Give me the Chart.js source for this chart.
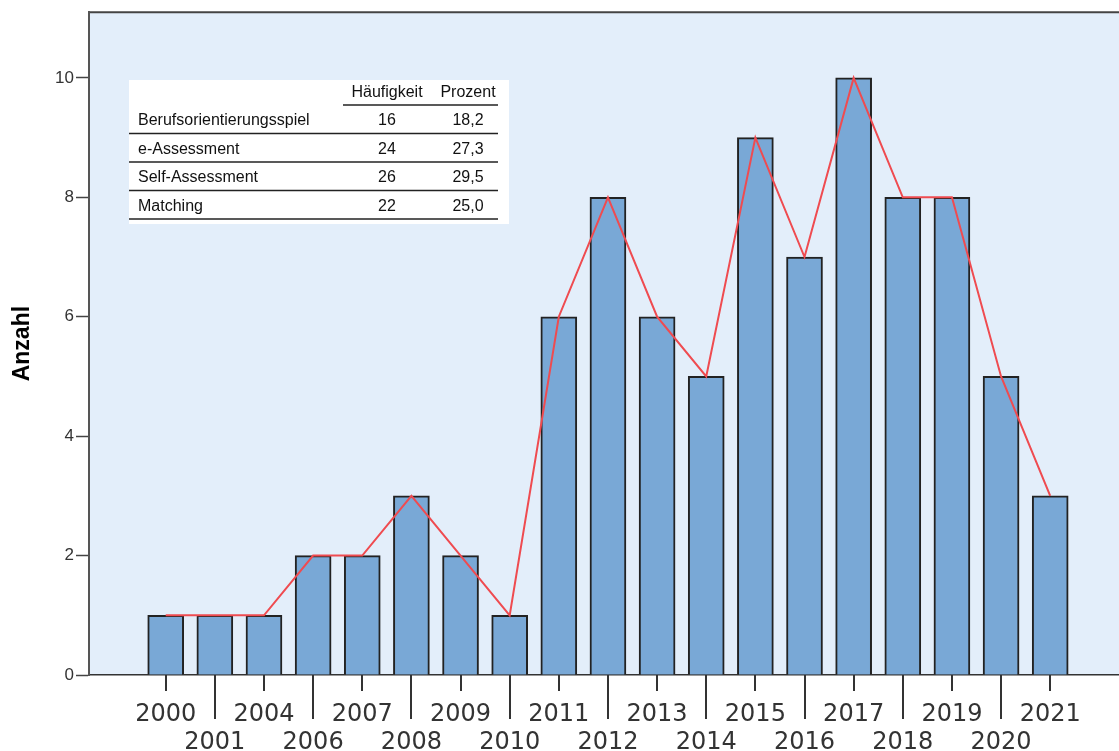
<!DOCTYPE html>
<html>
<head>
<meta charset="utf-8">
<script src="https://cdn.jsdelivr.net/npm/chart.js@4"></script>
<style>
    html, body { margin: 0; padding: 0; background: #fff; }
</style>
</head>
<body>
<canvas id="chart" width="1119" height="751"></canvas>
<script>
// ===============================
// DATA
// ===============================

const years = ['2000', '2001', '2004', '2006', '2007', '2008', '2009', '2010', '2011', '2012',
    '2013', '2014', '2015', '2016', '2017', '2018', '2019', '2020', '2021'];

const counts = [1, 1, 1, 2, 2, 3, 2, 1, 6, 8, 6, 5, 9, 7, 10, 8, 8, 5, 3];

const yTicks = [0, 2, 4, 6, 8, 10];

// inset table
const tableHeader = ['', 'Häufigkeit', 'Prozent'];
const tableRows = ['Berufsorientierungsspiel', 'e-Assessment', 'Self-Assessment', 'Matching'];
const tableFreq = ['16', '24', '26', '22'];
const tablePct = ['18,2', '27,3', '29,5', '25,0'];


// ===============================
// PLUGINS
// ===============================

const plotBackground = {
    id: 'plotBackground',
    beforeDraw(chart) {
        const { ctx, chartArea: a } = chart;
        ctx.save();
        ctx.fillStyle = '#e3eefa';
        ctx.fillRect(a.left, a.top, a.right - a.left, a.bottom - a.top);
        // top frame line
        ctx.strokeStyle = '#444';
        ctx.lineWidth = 2;
        ctx.beginPath();
        ctx.moveTo(a.left, a.top);
        ctx.lineTo(a.right, a.top);
        ctx.stroke();
        ctx.restore();
    }
};

// alternating short / long tick marks under the x axis
const xTickMarks = {
    id: 'xTickMarks',
    afterDraw(chart) {
        const { ctx } = chart;
        const x = chart.scales.x;
        ctx.save();
        ctx.strokeStyle = '#333';
        ctx.lineWidth = 2;
        years.forEach((y, i) => {
            const px = Math.round(x.getPixelForValue(i));
            const len = i % 2 ? 44 : 16;
            ctx.beginPath();
            ctx.moveTo(px, x.top);
            ctx.lineTo(px, x.top + len);
            ctx.stroke();
        });
        ctx.restore();
    }
};

const insetTable = {
    id: 'insetTable',
    afterDraw(chart) {
        const { ctx } = chart;
        const left = 129, top = 80, right = 509, bottom = 224;
        const headerBottom = 105, rowH = 28.5;
        const lineEnd = 498, col1 = 138, col2 = 387, col3 = 468, colSplit = 343;

        ctx.save();
        ctx.fillStyle = '#ffffff';
        ctx.fillRect(left, top, right - left, bottom - top);

        ctx.font = '16px "Liberation Sans", Arial, sans-serif';
        ctx.fillStyle = '#111';
        ctx.textBaseline = 'middle';

        ctx.textAlign = 'center';
        ctx.fillText(tableHeader[1], col2, 93);
        ctx.fillText(tableHeader[2], col3, 93);

        ctx.strokeStyle = '#222';
        ctx.lineWidth = 1.5;
        ctx.beginPath();
        ctx.moveTo(colSplit, headerBottom);
        ctx.lineTo(lineEnd, headerBottom);
        ctx.stroke();

        tableRows.forEach((name, i) => {
            const cy = headerBottom + rowH * i + rowH / 2 + 1.5;
            ctx.textAlign = 'left';
            ctx.fillText(name, col1, cy);
            ctx.textAlign = 'center';
            ctx.fillText(tableFreq[i], col2, cy);
            ctx.fillText(tablePct[i], col3, cy);

            const ly = headerBottom + rowH * (i + 1);
            ctx.beginPath();
            ctx.moveTo(left, ly);
            ctx.lineTo(lineEnd, ly);
            ctx.stroke();
        });
        ctx.restore();
    }
};


// ===============================
// CHART
// ===============================

const points = counts.map((v, i) => ({ x: i, y: v }));

const ctx = document.getElementById('chart').getContext('2d');

new Chart(ctx, {
    data: {
        datasets: [
            {
                type: 'line',
                data: points,
                borderColor: '#ef4b50',
                borderWidth: 2,
                pointRadius: 0,
                tension: 0,
                order: 0
            },
            {
                type: 'bar',
                data: points,
                backgroundColor: '#79a8d6',
                borderColor: '#222',
                borderWidth: 2,
                barThickness: 36,
                order: 1
            }
        ]
    },
    options: {
        responsive: false,
        animation: false,
        layout: { padding: { top: 12, right: 0, left: 0, bottom: 0 } },
        plugins: {
            legend: { display: false },
            tooltip: { enabled: false }
        },
        scales: {
            x: {
                type: 'linear',
                position: 'bottom',
                offset: false,
                min: -1.561,
                max: 19.40,
                afterBuildTicks: s => { s.ticks = years.map((y, i) => ({ value: i })); },
                afterFit: s => { s.height = 76; },
                grid: { display: false },
                border: { display: true, color: '#333', width: 1.5 },
                ticks: {
                    autoSkip: false,
                    maxRotation: 0,
                    padding: 18,
                    color: '#333',
                    font: { family: '"DejaVu Sans"', size: 24, lineHeight: 28 / 24 },
                    callback: v => {
                        const i = Math.round(v);
                        return i % 2 ? ['', years[i]] : years[i];
                    }
                }
            },
            y: {
                min: 0,
                max: 11.1,
                afterBuildTicks: s => { s.ticks = yTicks.map(v => ({ value: v })); },
                afterFit: s => { s.width = 89; },
                grid: { drawOnChartArea: false, tickLength: 13, tickColor: '#444', tickWidth: 1.5 },
                border: { display: true, color: '#555', width: 2 },
                ticks: {
                    padding: 2,
                    color: '#333',
                    font: { family: '"Liberation Sans", Arial, sans-serif', size: 17 }
                },
                title: {
                    display: true,
                    text: 'Anzahl',
                    color: '#000',
                    padding: { top: 9, bottom: 0 },
                    font: { family: '"Liberation Sans", Arial, sans-serif', size: 23, weight: 'bold', lineHeight: 1.2 }
                }
            }
        }
    },
    plugins: [plotBackground, xTickMarks, insetTable]
});
</script>
</body>
</html>
